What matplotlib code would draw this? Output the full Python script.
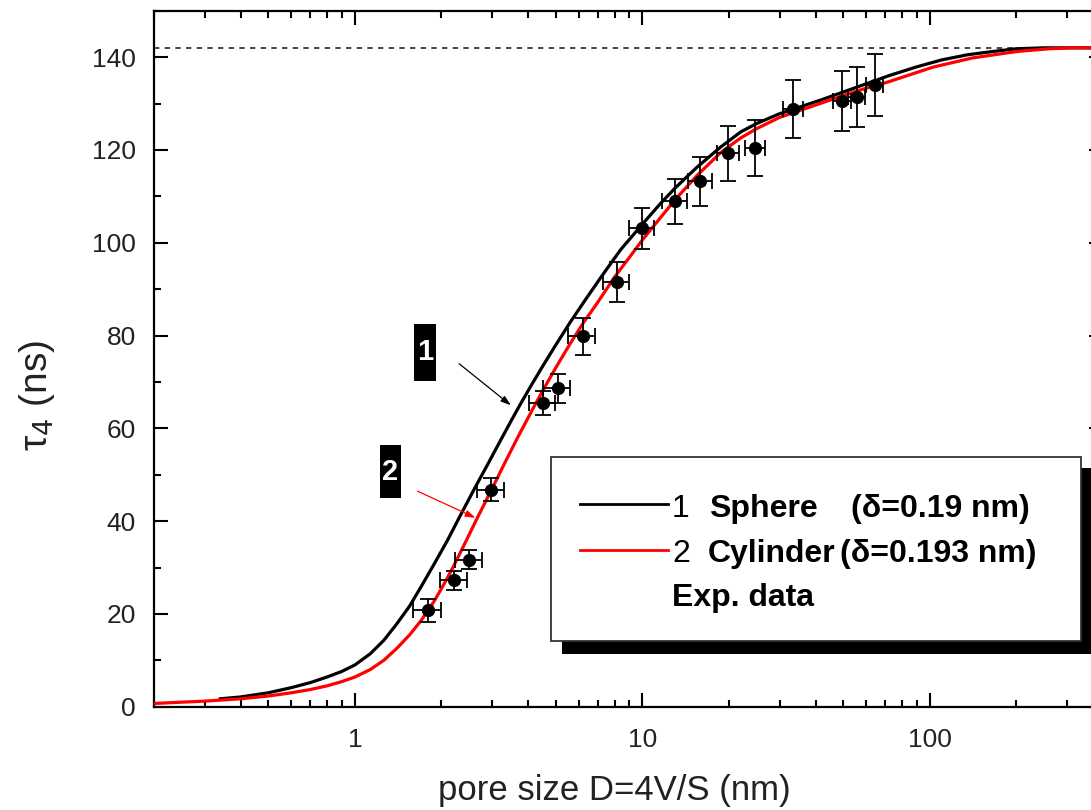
import matplotlib
matplotlib.use("Agg")
import matplotlib.pyplot as plt
from matplotlib.patches import Rectangle
from matplotlib.ticker import FixedLocator, MultipleLocator, LogLocator, NullFormatter
from matplotlib.lines import Line2D

# ---------------- data ----------------
sphere_x = [0.34, 0.4, 0.5, 0.6, 0.7, 0.8, 0.9, 1.0, 1.13, 1.26, 1.4, 1.55, 1.7, 1.88, 2.1, 2.33,
            2.6, 2.9, 3.21, 3.5, 3.77, 4.1, 4.5, 5.0, 5.6, 6.3, 7.2, 8.4, 10, 11.5, 13, 15.5, 18.7,
            22, 25, 30, 41.5, 55, 72, 90, 110, 135, 165, 200, 250, 400]
sphere_y = [1.7, 2.1, 3.0, 4.1, 5.2, 6.4, 7.6, 9.0, 11.4, 14.3, 17.9, 21.7, 25.9, 30.6, 35.9, 41.3,
            46.9, 52.3, 57.4, 61.7, 65.3, 69.2, 73.4, 78.0, 82.8, 87.5, 92.7, 98.5, 104.0, 108.3, 111.8,
            116.3, 120.6, 123.9, 125.7, 127.8, 130.7, 133.4, 136.0, 137.9, 139.4, 140.5, 141.2, 141.8,
            142.0, 142.0]

cyl_x = [0.2, 0.3, 0.4, 0.5, 0.6, 0.7, 0.8, 0.9, 1.0, 1.13, 1.26, 1.4, 1.55, 1.7, 1.88, 2.04, 2.2,
         2.43, 2.67, 3.0, 3.3, 3.68, 4.1, 4.5, 5.0, 5.6, 6.24, 7.0, 8.0, 9.0, 10, 13, 15.5, 18.7,
         22, 25, 30, 41.5, 55, 72, 102, 140, 200, 260, 314, 400]
cyl_y = [0.7, 1.2, 1.7, 2.3, 3.0, 3.7, 4.5, 5.4, 6.4, 8.0, 10.0, 12.6, 15.5, 18.6, 22.6, 26.4, 30.2,
         35.6, 40.8, 47.0, 52.2, 58.0, 63.5, 68.1, 73.1, 78.2, 82.8, 87.2, 92.6, 96.8, 100.6, 109.3,
         114.5, 119.4, 122.6, 124.6, 127.0, 130.0, 132.6, 134.7, 137.8, 139.8, 141.2, 141.8, 142.0, 142.0]

exp_x = [1.79, 2.21, 2.49, 2.97, 4.5, 5.07, 6.19, 8.13, 10.0, 13.0, 15.9, 19.9, 24.7, 33.5, 49.5, 55.8, 64.4]
exp_y = [20.8, 27.2, 31.7, 46.8, 65.4, 68.6, 79.8, 91.5, 103.1, 108.9, 113.2, 119.3, 120.4, 128.8, 130.5, 131.4, 134.0]
exp_xerr = [0.2, 0.24, 0.27, 0.32, 0.48, 0.55, 0.66, 0.85, 1.0, 1.3, 1.5, 1.7, 2.0, 2.6, 3.5, 3.8, 4.4]
exp_yerr = [2.5, 2.0, 2.0, 2.4, 2.6, 3.2, 4.0, 4.3, 4.4, 4.9, 5.3, 5.9, 6.0, 6.2, 6.4, 6.4, 6.6]

tau_bulk = 142.0

x_ticks = [1, 10, 100]
x_ticklabels = ["1", "10", "100"]
y_ticks = [0, 20, 40, 60, 80, 100, 120, 140]

legend_sphere = ("1", "Sphere", "(δ=0.19 nm)")
legend_cyl = ("2", "Cylinder", "(δ=0.193 nm)")
legend_exp = "Exp. data"

# ---------------- figure ----------------
W, H = 1091, 810
fig = plt.figure(figsize=(W / 100, H / 100), dpi=100)
arial = ['Liberation Sans', 'DejaVu Sans']

def fx(px):
    return px / W

def fy(py):
    return 1 - py / H

ax_left, ax_right, ax_bottom, ax_top = 154, 1103, 706.7, 10.7
ax = fig.add_axes([fx(ax_left), fy(ax_bottom), (ax_right - ax_left) / W, (ax_bottom - ax_top) / H])

ax.set_xscale('log')
ax.set_xlim(0.2, 400)
ax.set_ylim(0, 150)

ax.axhline(tau_bulk, color='#222222', lw=1.2, ls=(0, (3.2, 3.2)), zorder=1)
ax.plot(sphere_x, sphere_y, color='black', lw=2.3, zorder=3)
ax.plot(cyl_x, cyl_y, color='#ff0000', lw=2.3, zorder=3)
ax.errorbar(exp_x, exp_y, xerr=exp_xerr, yerr=exp_yerr, fmt='o', color='black', ms=8.5,
            elinewidth=1.3, capsize=5.5, capthick=1.3, zorder=4)

for s in ax.spines.values():
    s.set_linewidth(1.6)

ax.xaxis.set_major_locator(FixedLocator(x_ticks))
ax.set_xticklabels(x_ticklabels)
ax.xaxis.set_minor_locator(LogLocator(base=10, subs=range(2, 10)))
ax.xaxis.set_minor_formatter(NullFormatter())
ax.yaxis.set_major_locator(FixedLocator(y_ticks))
ax.yaxis.set_minor_locator(MultipleLocator(10))

ax.tick_params(which='both', direction='in', top=True, right=True, width=1.5, colors='black')
ax.tick_params(which='major', length=10)
ax.tick_params(which='minor', length=5)
ax.tick_params(axis='x', which='major', pad=15)
ax.tick_params(axis='y', which='major', pad=13)
for lab in ax.get_xticklabels() + ax.get_yticklabels():
    lab.set_family(arial)
    lab.set_fontsize(19)
    lab.set_color('#222222')

ax.set_xlabel("pore size D=4V/S (nm)", family=arial, fontsize=25, color='#222222')
ax.xaxis.set_label_coords((614 - ax_left) / (ax_right - ax_left), -0.096)
ax.set_ylabel(r"τ$_4$ (ns)", family=arial, fontsize=28, color='#222222')
ax.yaxis.set_label_coords((57 - ax_left) / (ax_right - ax_left), 0.448)

# number boxes with arrows
for (x0, x1, y0, y1, txt) in [(414, 436, 324, 381, "1"), (380, 401, 445, 498, "2")]:
    fig.add_artist(Rectangle((fx(x0), fy(y1)), (x1 - x0) / W, (y1 - y0) / H,
                             transform=fig.transFigure, facecolor='black', edgecolor='none'))
    fig.text(fx((x0 + x1) / 2), fy((y0 + y1) / 2), txt, color='white', fontsize=21,
             fontweight='bold', family=arial, ha='center', va='center')

ax.annotate("", xy=(513, H - 407), xycoords='figure pixels', xytext=(457, H - 362),
            textcoords='figure pixels',
            arrowprops=dict(arrowstyle='-|>,head_length=0.6,head_width=0.2', color='black', lw=0.9))
ax.annotate("", xy=(478, H - 519), xycoords='figure pixels', xytext=(415, H - 490),
            textcoords='figure pixels',
            arrowprops=dict(arrowstyle='-|>,head_length=0.6,head_width=0.2', color='#ff0000', lw=0.9))

# legend box (drawn manually, Origin style with shadow)
fig.add_artist(Rectangle((fx(562), fy(654)), (1092 - 562) / W, (654 - 468) / H,
                         transform=fig.transFigure, facecolor='black', edgecolor='none', zorder=5))
fig.add_artist(Rectangle((fx(551), fy(641)), (1081 - 551) / W, (641 - 457) / H,
                         transform=fig.transFigure, facecolor='white', edgecolor='#333333', lw=1.3, zorder=6))
fig.add_artist(Line2D([fx(580), fx(668)], [fy(504), fy(504)], transform=fig.transFigure,
                      color='black', lw=2.0, zorder=7))
fig.add_artist(Line2D([fx(580), fx(668)], [fy(550), fy(550)], transform=fig.transFigure,
                      color='#ff0000', lw=2.0, zorder=7))
lk = dict(fontsize=23, family=arial, color='black', va='baseline', ha='left', zorder=8)
fig.text(fx(672), fy(517), legend_sphere[0], **lk)
fig.text(fx(709), fy(517), legend_sphere[1], fontweight='bold', **lk)
fig.text(fx(851), fy(517), legend_sphere[2], fontweight='bold', **lk)
fig.text(fx(672), fy(562), legend_cyl[0], **lk)
fig.text(fx(708), fy(562), legend_cyl[1], fontweight='bold', **lk)
fig.text(fx(840), fy(562), legend_cyl[2], fontweight='bold', **lk)
fig.text(fx(672), fy(606), legend_exp, fontweight='bold', **lk)

fig.savefig("out.png", dpi=100)
